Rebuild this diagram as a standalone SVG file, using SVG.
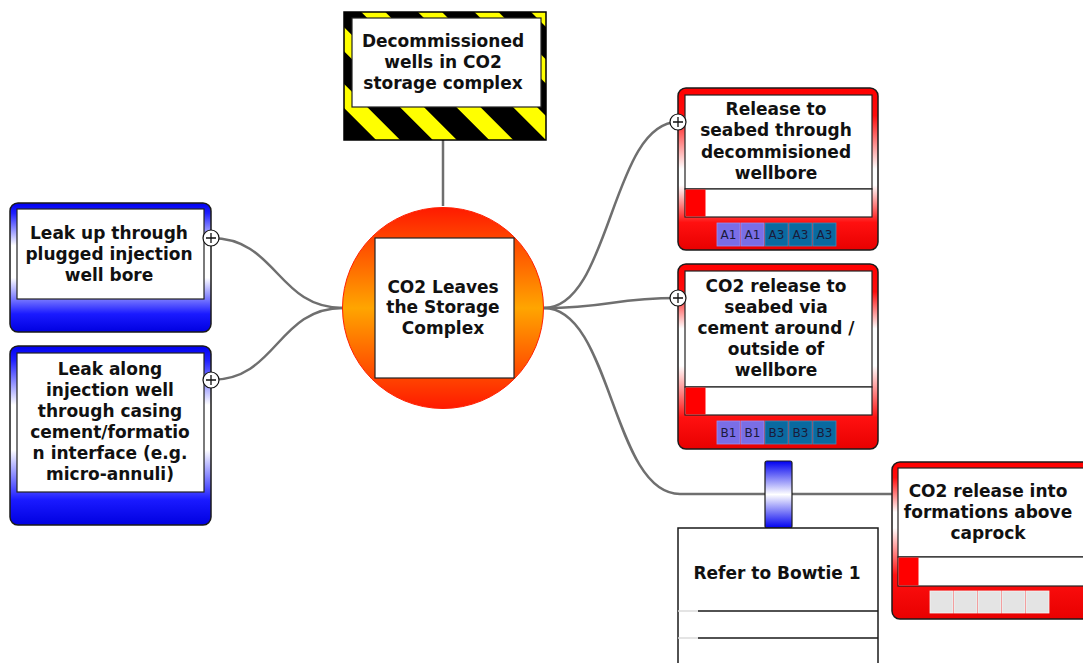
<svg xmlns="http://www.w3.org/2000/svg" width="1083" height="663" viewBox="0 0 1083 663">
<defs>
<style>
.t{font-family:"DejaVu Sans",Verdana,sans-serif;font-weight:bold;font-size:17px;fill:#111;text-anchor:middle}
.tag{font-family:"DejaVu Sans",Verdana,sans-serif;font-size:12px;fill:#1a1a3a;text-anchor:middle}
.conn{fill:none;stroke:#6f6f6f;stroke-width:2.5}
.inner{fill:#fff;stroke:#222;stroke-width:1.2}
.outer{stroke:#1a1a1a;stroke-width:1.5}
.a1{fill:#7a6ee6;stroke:#9a90f0;stroke-width:0.8}
.a3{fill:#0a6aa0;stroke:#3a8ab8;stroke-width:0.8}
.gr{fill:#e4e4e4;stroke:#f4f4f4;stroke-width:0.8}
.plus{fill:#fff;stroke:#111;stroke-width:1.2}
.pl{stroke:#111;stroke-width:1.3}
</style>
<linearGradient id="gRedA" x1="0" y1="0" x2="0" y2="1">
<stop offset="0" stop-color="#ff0000"/>
<stop offset="0.17" stop-color="#ff0d0d"/>
<stop offset="0.5" stop-color="#ffffff"/>
<stop offset="0.6" stop-color="#ffffff"/>
<stop offset="0.83" stop-color="#ff1010"/>
<stop offset="1" stop-color="#e80000"/>
</linearGradient>
<linearGradient id="gRedB" x1="0" y1="0" x2="0" y2="1">
<stop offset="0" stop-color="#ff0000"/>
<stop offset="0.15" stop-color="#ff0d0d"/>
<stop offset="0.35" stop-color="#ffffff"/>
<stop offset="0.55" stop-color="#ffffff"/>
<stop offset="0.83" stop-color="#ff1010"/>
<stop offset="1" stop-color="#e80000"/>
</linearGradient>
<linearGradient id="gRedC" x1="0" y1="0" x2="0" y2="1">
<stop offset="0" stop-color="#ff0000"/>
<stop offset="0.1" stop-color="#ff0d0d"/>
<stop offset="0.32" stop-color="#ffffff"/>
<stop offset="0.42" stop-color="#ffffff"/>
<stop offset="0.72" stop-color="#ff1010"/>
<stop offset="1" stop-color="#e80000"/>
</linearGradient>
<linearGradient id="gBlue" x1="0" y1="0" x2="0" y2="1">
<stop offset="0" stop-color="#0000f0"/>
<stop offset="0.08" stop-color="#2020ff"/>
<stop offset="0.33" stop-color="#ffffff"/>
<stop offset="0.58" stop-color="#ffffff"/>
<stop offset="0.86" stop-color="#1a1aff"/>
<stop offset="1" stop-color="#0000e0"/>
</linearGradient>
<linearGradient id="gBar" x1="0" y1="0" x2="0" y2="1">
<stop offset="0" stop-color="#0000f0"/>
<stop offset="0.5" stop-color="#ffffff"/>
<stop offset="1" stop-color="#0000f0"/>
</linearGradient>
<linearGradient id="gCirc" x1="0" y1="0" x2="0" y2="1">
<stop offset="0" stop-color="#ff1a00"/>
<stop offset="0.5" stop-color="#ffa500"/>
<stop offset="1" stop-color="#ff1a00"/>
</linearGradient>
<pattern id="haz" width="40" height="40" patternUnits="userSpaceOnUse" patternTransform="rotate(-45)">
<rect width="40" height="40" fill="#000"/>
<rect x="7" width="17" height="40" fill="#ffff00"/>
</pattern>
</defs>

<g id="connectors">
<path class="conn" d="M443,140 L443,206"/>
<path class="conn" d="M343,308 C277,308 277,238 211,238"/>
<path class="conn" d="M343,308 C277,308 277,380 211,380"/>
<path class="conn" d="M544,308 C611,308 611,122 678,122"/>
<path class="conn" d="M544,308 C611,308 611,298 678,298"/>
<path class="conn" d="M544,308 C612,308 612,494 680,494 L892,494"/>
</g>

<g id="hazard">
<rect x="344" y="12" width="202" height="128" fill="url(#haz)" stroke="#000" stroke-width="1.5"/>
<rect class="inner" x="352" y="18" width="189" height="89"/>
<text class="t" x="443" y="47">Decommissioned</text>
<text class="t" x="443" y="68">wells in CO2</text>
<text class="t" x="443" y="89">storage complex</text>
</g>

<g id="top-event">
<circle cx="443" cy="308" r="100.5" fill="url(#gCirc)" stroke="#ff2000" stroke-width="1"/>
<rect class="inner" x="375" y="238" width="139" height="140"/>
<text class="t" x="443" y="293">CO2 Leaves</text>
<text class="t" x="443" y="313">the Storage</text>
<text class="t" x="443" y="334">Complex</text>
</g>

<g id="threat1">
<rect class="outer" x="10" y="203" width="201" height="129" rx="8" fill="url(#gBlue)"/>
<rect class="inner" x="17" y="209" width="187" height="90"/>
<text class="t" x="109" y="239">Leak up through</text>
<text class="t" x="109" y="260">plugged injection</text>
<text class="t" x="109" y="281">well bore</text>
<circle class="plus" cx="211" cy="238" r="8"/>
<path class="pl" d="M206,238 H216 M211,233 V243"/>
</g>

<g id="threat2">
<rect class="outer" x="10" y="346" width="201" height="179" rx="8" fill="url(#gBlue)"/>
<rect class="inner" x="17" y="353" width="187" height="139"/>
<text class="t" x="110" y="375">Leak along</text>
<text class="t" x="110" y="396">injection well</text>
<text class="t" x="110" y="417">through casing</text>
<text class="t" x="110" y="438">cement/formatio</text>
<text class="t" x="110" y="459">n interface (e.g.</text>
<text class="t" x="110" y="480">micro-annuli)</text>
<circle class="plus" cx="211" cy="380" r="8"/>
<path class="pl" d="M206,380 H216 M211,375 V385"/>
</g>

<g id="consequence-a">
<rect class="outer" x="678" y="88" width="200" height="162" rx="8" fill="url(#gRedA)"/>
<rect class="inner" x="685" y="95" width="187" height="94"/>
<rect class="inner" x="685" y="189" width="187" height="28"/>
<rect x="685.5" y="189.5" width="20" height="27" fill="#ff0000"/>
<text class="t" x="776" y="115">Release to</text>
<text class="t" x="776" y="136">seabed through</text>
<text class="t" x="776" y="158">decommisioned</text>
<text class="t" x="776" y="179">wellbore</text>
<rect class="a1" x="717" y="223" width="23" height="23"/>
<rect class="a1" x="741" y="223" width="23" height="23"/>
<rect class="a3" x="765" y="223" width="23" height="23"/>
<rect class="a3" x="789" y="223" width="23" height="23"/>
<rect class="a3" x="813" y="223" width="23" height="23"/>
<text class="tag" x="728.5" y="239">A1</text>
<text class="tag" x="752.5" y="239">A1</text>
<text class="tag" x="776.5" y="239">A3</text>
<text class="tag" x="800.5" y="239">A3</text>
<text class="tag" x="824.5" y="239">A3</text>
<circle class="plus" cx="678" cy="122" r="8"/>
<path class="pl" d="M673,122 H683 M678,117 V127"/>
</g>

<g id="consequence-b">
<rect class="outer" x="678" y="264" width="200" height="185" rx="8" fill="url(#gRedB)"/>
<rect class="inner" x="685" y="271" width="187" height="116"/>
<rect class="inner" x="685" y="387" width="187" height="28"/>
<rect x="685.5" y="387.5" width="20" height="27" fill="#ff0000"/>
<text class="t" x="776" y="292">CO2 release to</text>
<text class="t" x="776" y="313">seabed via</text>
<text class="t" x="776" y="334">cement around /</text>
<text class="t" x="776" y="355">outside of</text>
<text class="t" x="776" y="376">wellbore</text>
<rect class="a1" x="717" y="421" width="23" height="23"/>
<rect class="a1" x="741" y="421" width="23" height="23"/>
<rect class="a3" x="765" y="421" width="23" height="23"/>
<rect class="a3" x="789" y="421" width="23" height="23"/>
<rect class="a3" x="813" y="421" width="23" height="23"/>
<text class="tag" x="728.5" y="437">B1</text>
<text class="tag" x="752.5" y="437">B1</text>
<text class="tag" x="776.5" y="437">B3</text>
<text class="tag" x="800.5" y="437">B3</text>
<text class="tag" x="824.5" y="437">B3</text>
<circle class="plus" cx="678" cy="298" r="8"/>
<path class="pl" d="M673,298 H683 M678,293 V303"/>
</g>

<g id="consequence-c">
<rect class="outer" x="892" y="462" width="200" height="157" rx="8" fill="url(#gRedC)"/>
<rect class="inner" x="898" y="468" width="190" height="89"/>
<rect class="inner" x="898" y="557" width="190" height="29"/>
<rect x="898.5" y="557.5" width="20" height="28" fill="#ff0000"/>
<text class="t" x="988" y="497">CO2 release into</text>
<text class="t" x="988" y="518">formations above</text>
<text class="t" x="988" y="539">caprock</text>
<rect class="gr" x="930" y="591" width="23" height="22"/>
<rect class="gr" x="954" y="591" width="23" height="22"/>
<rect class="gr" x="978" y="591" width="23" height="22"/>
<rect class="gr" x="1002" y="591" width="23" height="22"/>
<rect class="gr" x="1026" y="591" width="23" height="22"/>
</g>

<g id="bowtie-ref">
<rect x="765" y="461" width="27" height="67" rx="2" fill="url(#gBar)" stroke="#1a1a1a" stroke-width="1.2"/>
<rect x="678" y="528" width="200" height="140" fill="#fff" stroke="#1a1a1a" stroke-width="1.5"/>
<path d="M698,611 H878 M698,638 H878" stroke="#1a1a1a" stroke-width="1.5"/>
<path d="M678,611 H698 M678,638 H698" stroke="#dcdcdc" stroke-width="1.5"/>
<text class="t" x="777" y="579">Refer to Bowtie 1</text>
</g>
</svg>
